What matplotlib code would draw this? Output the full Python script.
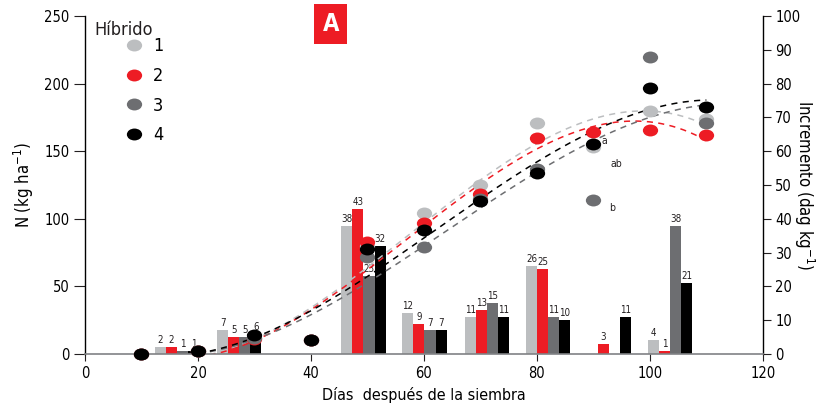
"""Nitrogen uptake by hybrid: accumulated N (points + cubic trend) and increments (bars)."""
import matplotlib
matplotlib.use("Agg")
import matplotlib.pyplot as plt
import numpy as np
from matplotlib.path import Path
from matplotlib.transforms import Affine2D
from matplotlib.lines import Line2D

plt.rcParams["font.family"] = ["DejaVu Sans"]
plt.rcParams["font.stretch"] = "condensed"

# sampling days and accumulated N (kg/ha) per hybrid
days = [10, 20, 30, 40, 50, 60, 70, 80, 90, 100, 110]
n_h1 = [0, 2, 12, 10, 80, 104, 125, 171, 153, 180, 174]
n_h2 = [0, 2, 11, 10, 83, 97, 118, 160, 164, 166, 162]
n_h3 = [0, 2, 12, 10, 72, 79, 115, 137, 114, 220, 171]
n_h4 = [0, 2, 14, 10, 78, 92, 113, 134, 155, 197, 183]

# increments (dag/kg) per period, bar group centers on the day axis
bar_days = [16.3, 27.3, 49.3, 60.1, 71.1, 82.0, 92.7, 103.6]
inc_h1 = [2, 7, 38, 12, 11, 26, 0, 4]
inc_h2 = [2, 5, 43, 9, 13, 25, 3, 1]
inc_h3 = [1, 5, 23, 7, 15, 11, 0, 38]
inc_h4 = [1, 6, 32, 7, 11, 10, 11, 21]

hybrids = ["1", "2", "3", "4"]
colors = ["#BCBEC0", "#ED1C24", "#6D6E71", "#000000"]

# significance letters at day 90: (hybrid index, letter)
sig_letters = [(1, "a"), (0, "ab"), (2, "b")]

n_series = [n_h1, n_h2, n_h3, n_h4]
inc_series = [inc_h1, inc_h2, inc_h3, inc_h4]

ellipse = Path.unit_circle().transformed(Affine2D().scale(1.0, 0.78))

fig = plt.figure(figsize=(8.31, 4.12), dpi=100)
ax = fig.add_axes([0.1023, 0.1408, 0.8157, 0.8203])
ax2 = ax.twinx()

# bars on the right axis, drawn beneath the left-axis points
ax2.set_zorder(1)
ax.set_zorder(2)
ax.patch.set_visible(False)

bw = 1.95
for i, (vals, col) in enumerate(zip(inc_series, colors)):
    xs = np.array(bar_days) + (i - 1.5) * bw
    for x, v in zip(xs, vals):
        if v <= 0:
            continue
        ax2.bar(x, v, width=bw, color=col, linewidth=0)
        ax2.text(x, v + 0.6, str(v), ha="center", va="bottom", fontsize=7,
                 color="#231F20")

# trend lines (cubic fit) and points
xfit = np.linspace(10, 110, 200)
for i, (vals, col) in enumerate(zip(n_series, colors)):
    coef = np.polyfit(days, vals, 3)
    ax.plot(xfit, np.polyval(coef, xfit), color=col, linestyle=(0, (4, 3.5)),
            linewidth=1.1, zorder=2)
for i, (vals, col) in enumerate(zip(n_series, colors)):
    ax.plot(days, vals, linestyle="none", marker=ellipse, markersize=11,
            color=col, markeredgewidth=0, zorder=3 + i, clip_on=False)

i90 = days.index(90)
offsets = {"a": (6, -6), "ab": (12, -12), "b": (11, -6)}
for idx, letter in sig_letters:
    ax.annotate(letter, (90, n_series[idx][i90]), xytext=offsets[letter],
                textcoords="offset points", fontsize=7.5, color="#231F20",
                ha="left", va="center")

# axes styling
ax.set_xlim(0, 120)
ax.set_ylim(0, 250)
ax2.set_ylim(0, 100)
ax.set_xticks(range(0, 121, 20))
ax.set_yticks(range(0, 251, 50))
ax2.set_yticks(range(0, 101, 10))

for a in (ax, ax2):
    a.spines["top"].set_visible(False)
ax.spines["right"].set_visible(False)
ax2.spines["left"].set_visible(False)
ax2.spines["bottom"].set_visible(False)
ax.spines["bottom"].set_color("#808285")
ax.spines["bottom"].set_linewidth(1.2)
ax.spines["left"].set_linewidth(1.0)
ax2.spines["right"].set_linewidth(1.0)

ax.tick_params(axis="x", direction="out", length=5, color="#231F20",
               labelsize=10.5, pad=4)
ax.tick_params(axis="y", direction="out", length=8, color="#231F20",
               labelsize=10.5, pad=3)
ax2.tick_params(axis="y", direction="out", length=6, color="#231F20",
                labelsize=10.5, pad=3)

ax.set_xlabel("Días  después de la siembra", fontsize=11.5, labelpad=4)
ax.set_ylabel("N (kg ha$^{-1}$)", fontsize=12, labelpad=6)
ax2.set_ylabel("Incremento (dag kg$^{-1}$)", fontsize=12, rotation=270,
               labelpad=11)

# legend
ax.text(0.014, 0.985, "Híbrido", transform=ax.transAxes, fontsize=13,
        ha="left", va="top", color="#231F20")
handles = [Line2D([], [], linestyle="none", marker=ellipse, markersize=11,
                  color=c, markeredgewidth=0) for c in colors]
ax.legend(handles, hybrids, loc="upper left", bbox_to_anchor=(0.027, 0.975),
          frameon=False, fontsize=13, labelspacing=0.65, handletextpad=0.05,
          borderpad=0.2)

# panel tag
fig.text(0.398, 0.942, "A", fontsize=17, fontweight="bold", color="white",
         ha="center", va="center",
         bbox=dict(boxstyle="square,pad=0.35", facecolor="#ED1C24",
                   edgecolor="none"))

fig.savefig("out.png", dpi=100)
